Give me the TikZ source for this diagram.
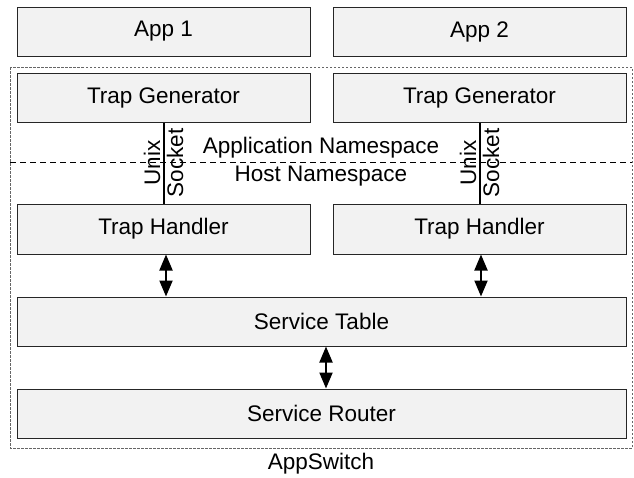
\documentclass[tikz,border=0pt]{standalone}
\usepackage{fontspec}
\setmainfont{Liberation Sans}
\usetikzlibrary{arrows.meta,positioning}
\definecolor{boxgray}{HTML}{F2F2F2}

\begin{document}
\begin{tikzpicture}[x=1pt, y=-1pt, >={Triangle[length=16pt,width=13pt]},
    block/.style={rectangle, draw=black!85, line width=1pt, fill=boxgray, minimum height=49pt, inner sep=0pt},
    halfblock/.style={block, minimum width=293pt},
    fullblock/.style={block, minimum width=609pt},
    link/.style={<->, line width=2pt},
    sockline/.style={line width=2pt},
    label/.style={inner sep=3pt}]
      \useasboundingbox (0,0) rectangle (634,477);
      \fontsize{22.5}{27}\selectfont

      % AppSwitch frame
      \draw[black!60, line width=1pt, dash pattern=on 2.5pt off 1.5pt] (10,67) rectangle (632,448);
      \node (appswitch) at (321,464) {AppSwitch};

      % Apps
      \node[halfblock] (app1) at (163.5,31.5) {App 1};
      \node[halfblock] (app2) at (479.5,31.5) {App 2};

      % Trap generators and handlers
      \node[halfblock] (gen1) at (163.5,97.5) {Trap Generator};
      \node[halfblock] (gen2) at (479.5,97.5) {Trap Generator};
      \node[halfblock, minimum height=50pt] (hand1) at (163.5,229) {Trap Handler};
      \node[halfblock, minimum height=50pt] (hand2) at (479.5,229) {Trap Handler};

      % Namespace border
      \draw[line width=1pt, dash pattern=on 6pt off 4pt] (10,162) -- (632,162);
      \node (appns) at (321,148) {Application Namespace};
      \node (hostns) at (321,176) {Host Namespace};

      % Unix sockets
      \draw[sockline] (gen1) -- coordinate[midway] (sock1) (hand1);
      \draw[sockline] (gen2) -- coordinate[midway] (sock2) (hand2);
      \node[label, rotate=90, anchor=south] (unix1) at (sock1) {Unix};
      \node[label, rotate=90, anchor=north] (socket1) at (sock1) {Socket};
      \node[label, rotate=90, anchor=south] (unix2) at (sock2) {Unix};
      \node[label, rotate=90, anchor=north] (socket2) at (sock2) {Socket};

      % Service table and router
      \node[fullblock] (table) at (321.5,321.5) {Service Table};
      \node[fullblock] (router) at (321.5,413.5) {Service Router};

      \draw[link] ([xshift=2.5pt]hand1.south) -- ([xshift=2.5pt]hand1.south |- table.north);
      \draw[link] ([xshift=1.5pt]hand2.south) -- ([xshift=1.5pt]hand2.south |- table.north);
      \draw[link] ([xshift=4.5pt]table.south) -- ([xshift=4.5pt]table.south |- router.north);

    \end{tikzpicture}
\end{document}
